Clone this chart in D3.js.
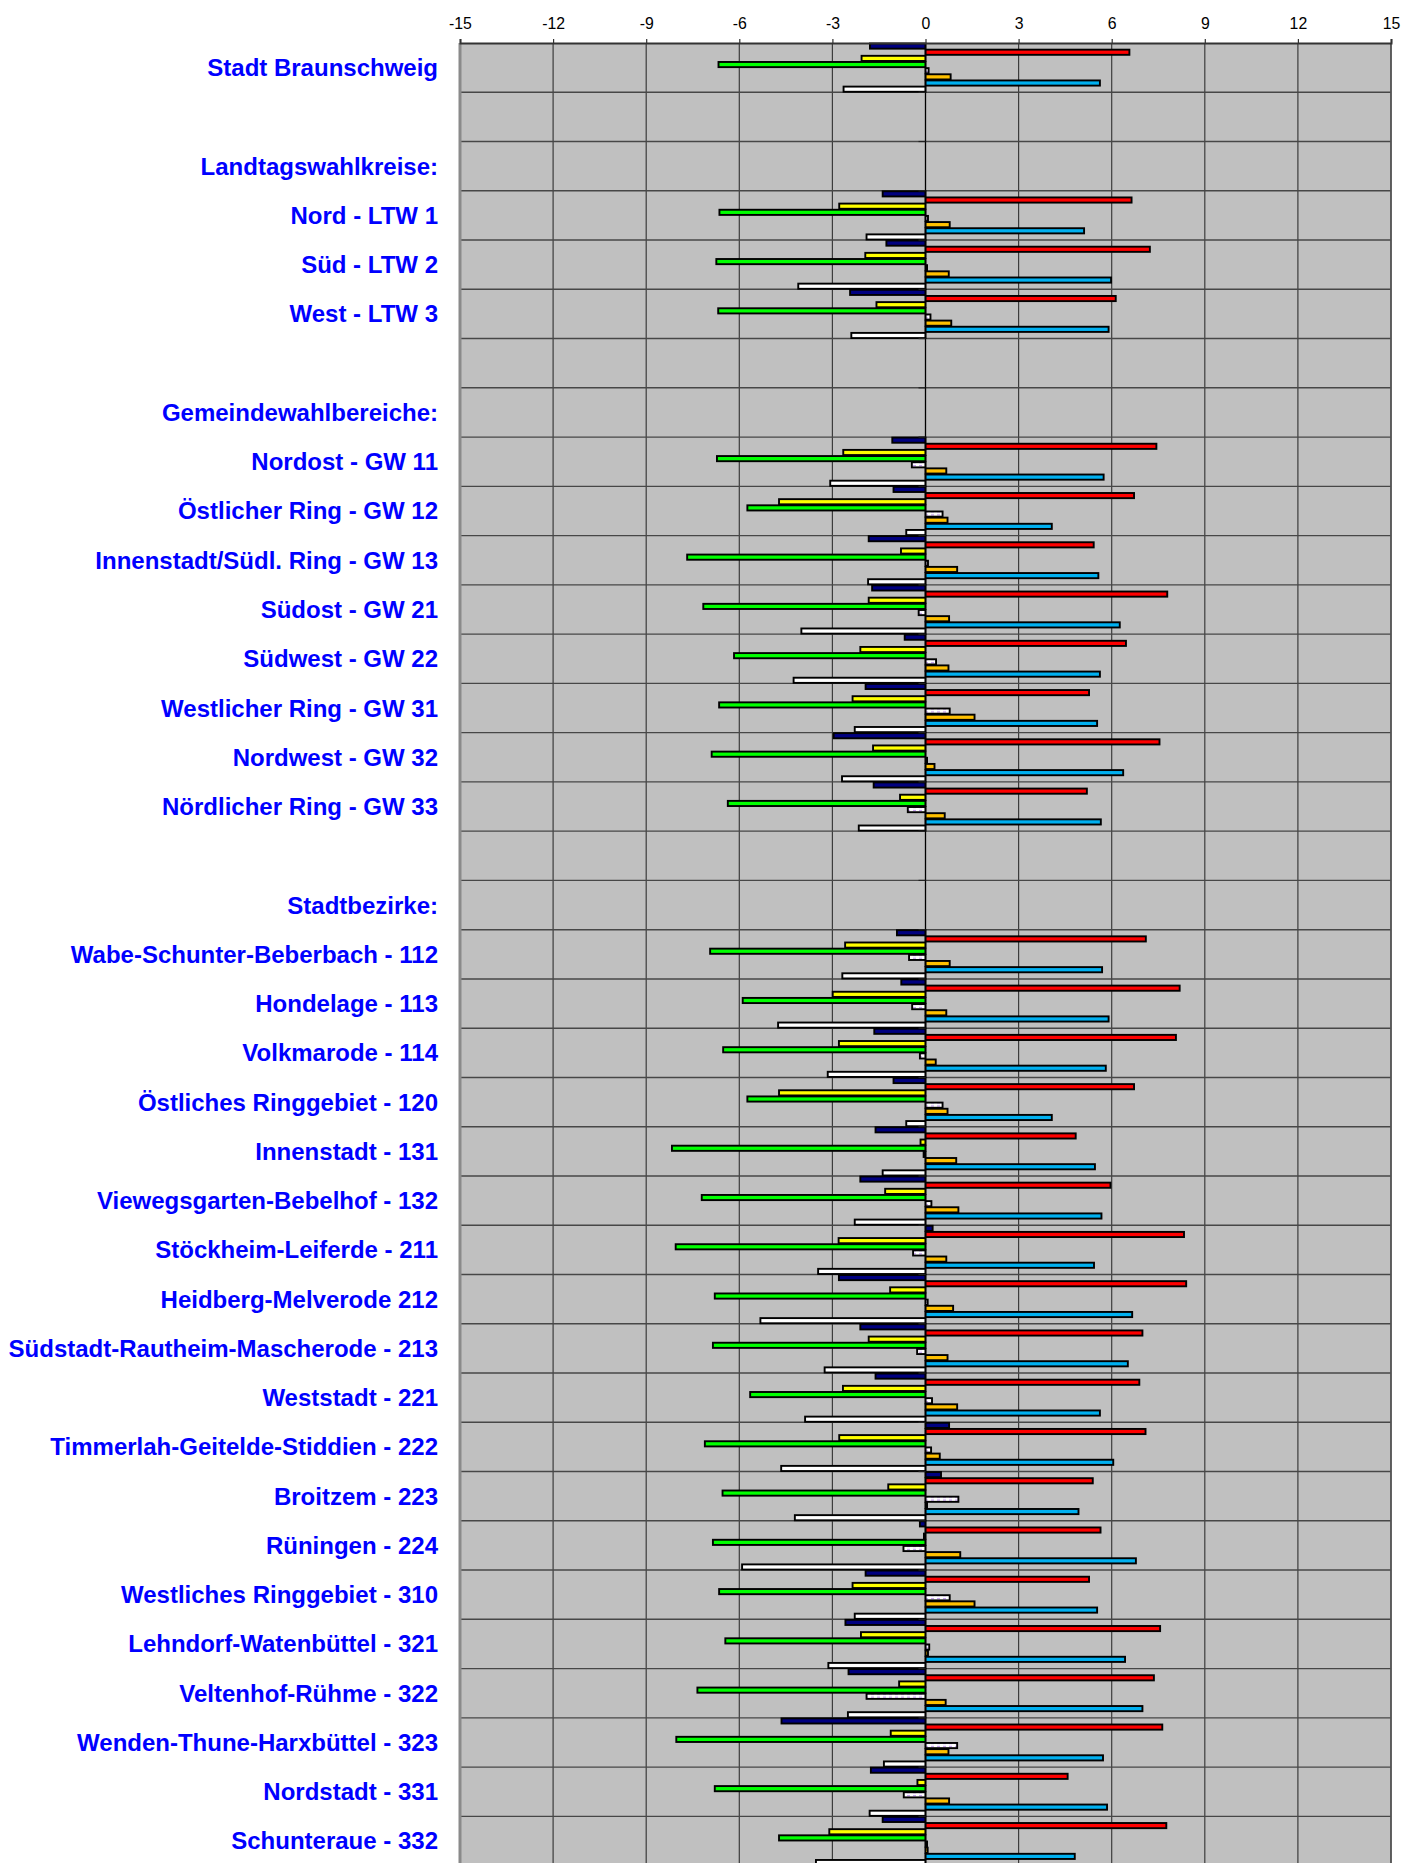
<!DOCTYPE html>
<html>
<head>
<meta charset="utf-8">
<script src="https://cdn.jsdelivr.net/npm/d3@7/dist/d3.min.js"></script>
<style>
  html, body { margin: 0; padding: 0; background: #ffffff; overflow: hidden; }
  svg { display: block; }
</style>
</head>
<body>
<svg id="chart" width="1404" height="1863"></svg>
<script>
// Row labels (empty strings are spacer rows, headings carry no bars)
const categories = [
  "Stadt Braunschweig", "", "Landtagswahlkreise:",
  "Nord - LTW 1", "Süd - LTW 2", "West - LTW 3", "", "Gemeindewahlbereiche:",
  "Nordost - GW 11", "Östlicher Ring - GW 12", "Innenstadt/Südl. Ring - GW 13",
  "Südost - GW 21", "Südwest - GW 22", "Westlicher Ring - GW 31",
  "Nordwest - GW 32", "Nördlicher Ring - GW 33", "", "Stadtbezirke:",
  "Wabe-Schunter-Beberbach - 112", "Hondelage - 113", "Volkmarode - 114",
  "Östliches Ringgebiet - 120", "Innenstadt - 131", "Viewegsgarten-Bebelhof - 132",
  "Stöckheim-Leiferde - 211", "Heidberg-Melverode 212",
  "Südstadt-Rautheim-Mascherode - 213", "Weststadt - 221",
  "Timmerlah-Geitelde-Stiddien - 222", "Broitzem - 223", "Rüningen - 224",
  "Westliches Ringgebiet - 310", "Lehndorf-Watenbüttel - 321",
  "Veltenhof-Rühme - 322", "Wenden-Thune-Harxbüttel - 323",
  "Nordstadt - 331", "Schunteraue - 332"
];

// Value axis ticks
const tickValues = [-15, -12, -9, -6, -3, 0, 3, 6, 9, 12, 15];

// Series values, one entry per row (null = no bar in that row)
const navySeries = [-1.79, null, null, -1.38, -1.26, -2.43, null, null,
  -1.07, -1.03, -1.83, -1.72, -0.67, -1.93, -2.96, -1.67, null, null,
  -0.92, -0.78, -1.65, -1.03, -1.61, -2.10, 0.23, -2.79, -2.10, -1.61, 0.76,
  0.50, -0.18, -1.93, -2.58, -2.48, -4.64, -1.76, -1.38];

const redSeries = [6.57, null, null, 6.64, 7.23, 6.13, null, null,
  7.44, 6.72, 5.42, 7.79, 6.46, 5.27, 7.54, 5.20, null, null,
  7.10, 8.19, 8.07, 6.72, 4.84, 5.96, 8.33, 8.40, 6.99, 6.89, 7.09,
  5.39, 5.64, 5.27, 7.56, 7.36, 7.63, 4.58, 7.76];

const yellowSeries = [-2.06, null, null, -2.78, -1.94, -1.58, null, null,
  -2.65, -4.72, -0.79, -1.83, -2.10, -2.35, -1.69, -0.82, null, null,
  -2.59, -2.99, -2.79, -4.72, -0.16, -1.30, -2.80, -1.14, -1.83, -2.66, -2.78,
  -1.20, -0.05, -2.35, -2.08, -0.85, -1.12, -0.26, -3.10];

const greenSeries = [-6.67, null, null, -6.64, -6.74, -6.68, null, null,
  -6.72, -5.74, -7.68, -7.16, -6.17, -6.65, -6.89, -6.37, null, null,
  -6.94, -5.89, -6.52, -5.74, -8.17, -7.21, -8.05, -6.79, -6.85, -5.65, -7.11,
  -6.54, -6.85, -6.65, -6.45, -7.35, -8.03, -6.79, -4.72];

const lilacSeries = [0.10, null, null, 0.08, 0.05, 0.16, null, null,
  -0.44, 0.55, 0.08, -0.22, 0.34, 0.78, 0.05, -0.57, null, null,
  -0.53, -0.43, -0.18, 0.55, -0.06, 0.19, -0.40, 0.07, -0.27, 0.21, 0.18,
  1.06, -0.71, 0.78, 0.12, -1.90, 1.02, -0.70, 0.05];

const orangeSeries = [0.81, null, null, 0.78, 0.75, 0.83, null, null,
  0.67, 0.71, 1.02, 0.76, 0.74, 1.58, 0.29, 0.62, null, null,
  0.78, 0.67, 0.33, 0.71, 0.99, 1.06, 0.67, 0.89, 0.71, 1.02, 0.46,
  0.05, 1.12, 1.58, 0.08, 0.65, 0.74, 0.76, 0.07];

const blueSeries = [5.62, null, null, 5.11, 5.98, 5.90, null, null,
  5.74, 4.07, 5.57, 6.26, 5.62, 5.53, 6.37, 5.65, null, null,
  5.69, 5.90, 5.81, 4.07, 5.46, 5.67, 5.43, 6.66, 6.52, 5.62, 6.05,
  4.93, 6.78, 5.53, 6.43, 6.99, 5.72, 5.85, 4.81];

const whiteSeries = [-2.64, null, null, -1.90, -4.10, -2.39, null, null,
  -3.07, -0.62, -1.85, -4.00, -4.25, -2.28, -2.69, -2.15, null, null,
  -2.68, -4.75, -3.15, -0.62, -1.38, -2.28, -3.46, -5.32, -3.25, -3.88, -4.65,
  -4.21, -5.91, -2.28, -3.13, -2.50, -1.34, -1.80, -3.53];

// Series in drawing order within each row, top to bottom
const series = [
  { key: "navy",   values: navySeries,   fill: "#000080" },
  { key: "red",    values: redSeries,    fill: "#FF0000" },
  { key: "yellow", values: yellowSeries, fill: "#FFFF00" },
  { key: "green",  values: greenSeries,  fill: "#00FF00" },
  { key: "lilac",  values: lilacSeries,  fill: "url(#lilacDash)" },
  { key: "orange", values: orangeSeries, fill: "#FFC000" },
  { key: "blue",   values: blueSeries,   fill: "#00B0F0" },
  { key: "white",  values: whiteSeries,  fill: "#FFFFFF" }
];

const svg = d3.select("#chart");
const plotLeft = 460, plotRight = 1391, plotTop = 43, rowH = 49.26;
const plotBottom = plotTop + rowH * categories.length;

const defs = svg.append("defs");
const pat = defs.append("pattern")
  .attr("id", "lilacDash")
  .attr("patternUnits", "userSpaceOnUse")
  .attr("width", 6).attr("height", 3);
pat.append("rect").attr("width", 6).attr("height", 3).attr("fill", "#ffffff");
pat.append("rect").attr("x", 1).attr("y", 1).attr("width", 3).attr("height", 1.2).attr("fill", "#c69cf2");

const x = d3.scaleLinear().domain([-15, 15]).range([plotLeft, plotRight]);
const y = d3.scaleBand()
  .domain(d3.range(categories.length))
  .range([plotTop, plotBottom])
  .padding(0);
const ySub = d3.scaleBand()
  .domain(series.map(s => s.key))
  .range([0, y.bandwidth()])
  .padding(0);

// Plot background
svg.append("rect")
  .attr("x", plotLeft).attr("y", plotTop)
  .attr("width", plotRight - plotLeft).attr("height", plotBottom - plotTop)
  .attr("fill", "#C0C0C0");

// Vertical grid lines
svg.append("g")
  .selectAll("line")
  .data(tickValues.filter(v => v !== 0 && v !== -15))
  .join("line")
  .attr("x1", d => x(d)).attr("x2", d => x(d))
  .attr("y1", plotTop).attr("y2", plotBottom)
  .attr("stroke", "#3c3c3c").attr("stroke-width", 1.2);

// Horizontal grid lines at row boundaries
svg.append("g")
  .selectAll("line")
  .data(d3.range(1, categories.length + 1))
  .join("line")
  .attr("x1", plotLeft).attr("x2", plotRight)
  .attr("y1", d => plotTop + d * rowH).attr("y2", d => plotTop + d * rowH)
  .attr("stroke", "#474747").attr("stroke-width", 1.4);

// Bars
const rows = svg.append("g")
  .selectAll("g")
  .data(categories.map((c, i) => i))
  .join("g")
  .attr("transform", i => `translate(0,${y(i)})`);

const slot = ySub.bandwidth();
rows.selectAll("rect")
  .data(i => series
    .filter(s => s.values[i] !== null)
    .map(s => ({ key: s.key, fill: s.fill, v: s.values[i] })))
  .join("rect")
  .attr("x", d => x(Math.min(0, d.v)))
  .attr("width", d => Math.max(0.01, Math.abs(x(d.v) - x(0))))
  .attr("y", d => ySub(d.key) + 0.5)
  .attr("height", slot - 1)
  .attr("fill", d => d.fill)
  .attr("stroke", "#000")
  .attr("stroke-width", 1.9);

// Zero line (category axis) with its small ticks
svg.append("line")
  .attr("x1", x(0)).attr("x2", x(0))
  .attr("y1", plotTop).attr("y2", plotBottom)
  .attr("stroke", "#000").attr("stroke-width", 1.3);
svg.append("g")
  .selectAll("line")
  .data(d3.range(1, categories.length + 1))
  .join("line")
  .attr("x1", x(0) - 7).attr("x2", x(0))
  .attr("y1", d => plotTop + d * rowH).attr("y2", d => plotTop + d * rowH)
  .attr("stroke", "#222").attr("stroke-width", 1.2);

// Plot borders
svg.append("line")
  .attr("x1", plotRight).attr("x2", plotRight)
  .attr("y1", plotTop).attr("y2", plotBottom)
  .attr("stroke", "#555").attr("stroke-width", 1.5);
svg.append("line")
  .attr("x1", plotLeft).attr("x2", plotLeft)
  .attr("y1", plotTop).attr("y2", plotBottom)
  .attr("stroke", "#8a8a8a").attr("stroke-width", 3);

// Value axis on top
const axis = d3.axisTop(x)
  .tickValues(tickValues)
  .tickSize(4)
  .tickPadding(10.5)
  .tickFormat(d => String(d));
const gAxis = svg.append("g")
  .attr("transform", `translate(0,${plotTop})`)
  .call(axis);
gAxis.select(".domain").attr("stroke", "#333").attr("stroke-width", 2);
gAxis.selectAll(".tick line").attr("stroke", "#333").attr("stroke-width", 1.2);
gAxis.selectAll(".tick text")
  .attr("font-family", "'Liberation Sans', Arial, sans-serif")
  .attr("font-size", "15.8px")
  .attr("fill", "#000");

// Row labels
svg.append("g")
  .selectAll("text")
  .data(categories.map((c, i) => ({ c, i })).filter(d => d.c !== ""))
  .join("text")
  .attr("x", 438)
  .attr("y", d => y(d.i) + y.bandwidth() / 2 + 8.5)
  .attr("text-anchor", "end")
  .attr("font-family", "'Liberation Sans', Arial, sans-serif")
  .attr("font-weight", "bold")
  .attr("font-size", "24px")
  .attr("fill", "#0000FF")
  .text(d => d.c);
</script>
</body>
</html>
